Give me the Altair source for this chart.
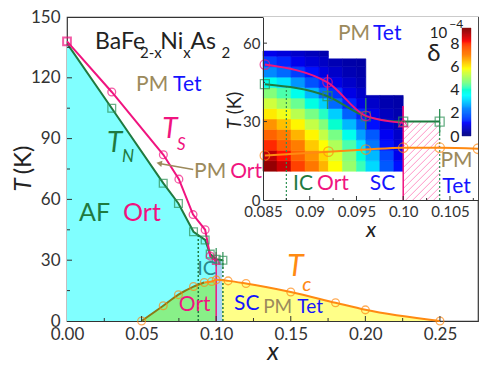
import altair as alt
import pandas as pd
import numpy as np

# ---------------- colours / fonts ----------------
PINK = "#f0147f"
GREEN_L = "#1f7a3f"
GREEN_M = "#2e9156"
ORANGE = "#ff8a12"
OLIVE = "#8c7a14"
TAN = "#9c8a5c"
BLUE = "#1414ff"
TEAL = "#2a8a8a"
FONT = "Lato"

# ---------------- main panel data ----------------
tn_x = [0.0, 0.030, 0.0645, 0.0747, 0.0848, 0.0926, 0.0960, 0.1000, 0.1045]
tn_T = [137, 105, 68, 58, 44, 40, 33, 30.5, 30]
ts_x = [0.0, 0.030, 0.0646, 0.0750, 0.0845, 0.0926, 0.0960, 0.1000]
ts_T = [138, 113, 82, 70, 52.5, 45, 32, 29.5]
tc_x = [0.050, 0.0645, 0.0747, 0.0848, 0.0920, 0.0970, 0.1000, 0.1080, 0.1200, 0.1500, 0.1800, 0.2000, 0.2500]
tc_T = [0, 7.5, 13, 17, 19, 19.5, 20.3, 19.8, 18.5, 14.3, 9, 5.5, 0]

main_eb_x = [0.1000, 0.1045]
main_eb_lo = [27, 26]
main_eb_hi = [36, 34]

main_dot_x = [0.088, 0.1045]
main_dot_top = [43, 30]
main_pink_x = [0.100]
main_pink_top = [34]
hatch_main = dict(x=0.100, x2=0.104, y=0, y2=30)

# ---------------- inset data ----------------
its_x = [0.0852, 0.0919, 0.0960, 0.1000]
its_T = [51.8, 45, 32.2, 29.5]
itn_x = [0.0852, 0.0919, 0.0960, 0.1000, 0.1039]
itn_T = [44.3, 39.7, 32, 30, 30]
itc_x = [0.0852, 0.0920, 0.0960, 0.1000, 0.1039, 0.1080]
itc_T = [17, 18.5, 19.3, 20, 20, 19.6]
ieb_g_x = [0.0919, 0.0960, 0.1039]
ieb_g_lo = [34.8, 27, 25.3]
ieb_g_hi = [43.5, 39, 34.8]
ieb_p_x = [0.0919, 0.1000]
ieb_p_lo = [42, 29.5]
ieb_p_hi = [48, 36]
idot_x = [0.0875, 0.1039]
idot_top = [43, 30]
ipink_x = [0.100]
ipink_top = [36]

# delta map (units 1e-4)
hm_x_edges = [0.085, 0.0865, 0.088, 0.0895, 0.091, 0.092, 0.0935, 0.095, 0.096, 0.0975, 0.099, 0.100]
hm_top = [57, 57, 57, 57, 57, 54, 54, 54, 40, 40, 40]
hm_T_edges = [11, 15, 19, 23, 27, 31, 35, 39, 43, 47, 51, 55, 59]
delta = [
    [9.1, 8.6, 7.8, 7.1, 6.5, 5.8, 4.9, 4.2, 3.1, 1.8, 1.2],
    [8.7, 8.1, 7.4, 6.8, 6.2, 5.5, 4.7, 3.9, 2.8, 1.6, 1.0],
    [8.0, 7.5, 7.0, 6.3, 5.8, 5.1, 4.3, 3.2, 2.2, 1.2, 0.85],
    [7.4, 7.0, 6.5, 5.9, 5.3, 4.6, 3.7, 2.6, 1.8, 1.05, 0.7],
    [6.8, 6.4, 5.9, 5.3, 4.7, 4.0, 2.8, 1.9, 1.2, 0.8, 0.55],
    [6.0, 5.7, 5.2, 4.6, 4.1, 3.0, 1.9, 1.3, 0.95, 0.6, 0.45],
    [5.4, 5.0, 4.5, 3.8, 3.0, 2.0, 1.3, 0.95, 0.7, 0.45, 0.4],
    [4.7, 4.3, 3.7, 2.8, 2.0, 1.4, 0.95, 0.7, 0.55, 0.4, 0.35],
    [3.7, 3.2, 2.5, 1.7, 1.3, 0.95, 0.7, 0.5],
    [2.4, 2.0, 1.5, 1.2, 0.9, 0.7, 0.5, 0.4],
    [1.5, 1.3, 1.0, 0.8, 0.65, 0.5, 0.4, 0.35],
    [1.0, 0.85, 0.7, 0.55, 0.45],
]
cbar_ticks = [0, 2, 4, 6, 8]
DMAX = 9.3

# ---------------- geometry ----------------
W, H = 411, 304
XD = [0.0, 0.2755]
YD = [0, 150]
IXD = [0.085, 0.108]
IYD = [0, 70]
IXR = [196, 411]
IYR = [183, 0]

JET = ["#00007f", "#0000ff", "#007fff", "#00ffff", "#7fff7f", "#ffff00", "#ff7f00", "#ff0000", "#7f0000"]
JET_DOM = [DMAX * i / 8 for i in range(9)]
cscale = alt.Scale(domain=JET_DOM, range=JET)


def mx(f="x", axis=None):
    return alt.X(f"{f}:Q", scale=alt.Scale(domain=XD, range=[0, W], nice=False, zero=False), axis=axis)


def my(f="y", axis=None):
    return alt.Y(f"{f}:Q", scale=alt.Scale(domain=YD, range=[H, 0], nice=False, zero=False), axis=axis)


def ix(f="x", axis=None):
    return alt.X(f"{f}:Q", scale=alt.Scale(domain=IXD, range=IXR, nice=False, zero=False), axis=axis)


def iy(f="y", axis=None):
    return alt.Y(f"{f}:Q", scale=alt.Scale(domain=IYD, range=IYR, nice=False, zero=False), axis=axis)


def df(**k):
    return pd.DataFrame(k)


def texts(rows, X, Y, font=FONT, italic=False, baseline="middle", align="left"):
    d = pd.DataFrame(rows, columns=["t", "x", "y", "c", "s"])
    kw = dict(font=font, baseline=baseline, align=align)
    if italic:
        kw["fontStyle"] = "italic"
    return alt.Chart(d).mark_text(**kw).encode(
        x=X("x"), y=Y("y"), text="t:N",
        color=alt.Color("c:N", scale=None), size=alt.Size("s:Q", scale=None))


layers = []

# ---------------- main layers ----------------
d_tn = df(x=tn_x, y=tn_T)
d_ts = df(x=ts_x, y=ts_T)
d_tc = df(x=tc_x, y=tc_T)

main_x_axis = alt.Axis(values=[0, 0.05, 0.1, 0.15, 0.2, 0.25], format=".2f", title="x", orient="bottom",
                       titleFontStyle="italic", titleFontSize=25, titleFont=FONT, titleFontWeight="normal",
                       labelFontSize=17, labelFont=FONT, ticks=False, domain=False, grid=False,
                       labelFlush=False, labelOverlap=False,
                       labelPadding=5, titlePadding=-3, labelColor="#333", titleColor="#222")
main_y_axis = alt.Axis(values=[0, 30, 60, 90, 120, 150], title=None, orient="left", labelFontSize=17, labelFont=FONT,
                       ticks=False, domain=False, grid=False, labelPadding=7, labelColor="#333",
                       labelFlush=False, labelOverlap=False)

layers.append(alt.Chart(d_tn[d_tn.x <= 0.1]).mark_area(color="#80ffff", opacity=1).encode(
    x=mx("x", main_x_axis), y=my("y", main_y_axis), y2=alt.datum(0)))
layers.append(alt.Chart(d_tc[d_tc.x <= 0.1]).mark_area(color="#88f088", interpolate="monotone").encode(
    x=mx(), y=my(), y2=alt.datum(0)))
layers.append(alt.Chart(d_tc[d_tc.x >= 0.1]).mark_area(color="#ffff88", interpolate="monotone").encode(
    x=mx(), y=my(), y2=alt.datum(0)))
layers.append(alt.Chart(pd.DataFrame([hatch_main])).mark_rect(color="#a8d4f5").encode(
    x=mx("x"), x2="x2", y=my("y"), y2="y2"))
layers.append(alt.Chart(df(x=main_dot_x, t=main_dot_top, b=[0] * len(main_dot_x))).mark_rule(
    color=GREEN_L, strokeDash=[2, 2], strokeWidth=1.5).encode(x=mx(), y=my("b"), y2="t"))
layers.append(alt.Chart(df(x=main_pink_x, t=main_pink_top, b=[0])).mark_rule(
    color=PINK, strokeWidth=1.5).encode(x=mx(), y=my("b"), y2="t"))
layers.append(alt.Chart(d_tn).mark_line(color=GREEN_L, strokeWidth=2).encode(x=mx(), y=my()))
layers.append(alt.Chart(d_ts).mark_line(color=PINK, strokeWidth=2).encode(x=mx(), y=my()))
layers.append(alt.Chart(d_tc[d_tc.x <= 0.092]).mark_line(color=OLIVE, strokeWidth=2, interpolate="monotone").encode(x=mx(), y=my()))
layers.append(alt.Chart(d_tc[d_tc.x >= 0.092]).mark_line(color=ORANGE, strokeWidth=2, interpolate="monotone").encode(x=mx(), y=my()))
layers.append(alt.Chart(df(x=main_eb_x, lo=main_eb_lo, hi=main_eb_hi)).mark_rule(color=GREEN_M, strokeWidth=1.2).encode(
    x=mx(), y=my("lo"), y2="hi"))
layers.append(alt.Chart(d_tn.iloc[1:]).mark_point(shape="square", color=GREEN_M, size=60, strokeWidth=1.3).encode(x=mx(), y=my()))
layers.append(alt.Chart(d_ts.iloc[1:-1]).mark_point(shape="circle", color=PINK, size=60, strokeWidth=1.3).encode(x=mx(), y=my()))
layers.append(alt.Chart(d_ts.iloc[-1:]).mark_point(shape="triangle-up", color=PINK, size=50, strokeWidth=1.3).encode(x=mx(), y=my()))
layers.append(alt.Chart(d_ts.iloc[:1]).mark_point(shape="square", color=PINK, size=60, strokeWidth=2).encode(x=mx(), y=my()))
layers.append(alt.Chart(d_tc).mark_point(shape="circle", color=ORANGE, size=60, strokeWidth=1.3).encode(x=mx(), y=my()))

layers.append(alt.Chart(df(x=[0.0846], y=[74.8], x2=[0.0628], y2=[77.6])).mark_rule(color=TAN, strokeWidth=1.5).encode(
    x=mx(), y=my(), x2="x2", y2="y2"))
layers.append(alt.Chart(df(x=[0.0618], y=[77.8])).mark_point(shape="triangle-left", filled=True, color=TAN, size=40,
                                                             opacity=1, angle=10).encode(x=mx(), y=my()))

# inward ticks of the main panel
layers.append(alt.Chart(df(v=[30, 60, 90, 120])).mark_rule(color="#333").encode(y=my("v"), x=alt.value(0), x2=alt.value(5)))
layers.append(alt.Chart(df(v=[15, 45, 75, 105, 135])).mark_rule(color="#333").encode(y=my("v"), x=alt.value(0), x2=alt.value(3)))
layers.append(alt.Chart(df(v=[0.05, 0.1, 0.15, 0.2, 0.25])).mark_rule(color="#333").encode(x=mx("v"), y=alt.value(H), y2=alt.value(H - 5)))
layers.append(alt.Chart(df(v=[0.025, 0.075, 0.125, 0.175, 0.225])).mark_rule(color="#333").encode(x=mx("v"), y=alt.value(H), y2=alt.value(H - 3)))

# main annotations
layers.append(texts([("PM", 0.0678, 116.6, TAN, 21), ("PM", 0.1067, 73.3, TAN, 21), ("AF", 0.0289, 53.1, GREEN_L, 25),
                     ("PM", 0.1510, 6.9, TAN, 19)], mx, my, align="right"))
layers.append(texts([("Tet", 0.0711, 116.6, BLUE, 21), ("Ort", 0.1094, 73.3, PINK, 21), ("Ort", 0.0376, 53.1, PINK, 25),
                     ("Tet", 0.1544, 6.9, BLUE, 19)], mx, my, align="left"))
layers.append(texts([("IC", 0.0936, 25.6, TEAL, 20), ("Ort", 0.0856, 7.9, PINK, 21), ("SC", 0.1205, 8.4, BLUE, 21)],
                    mx, my, align="center"))
layers.append(texts([("T", 0.0638, 94.4, PINK, 28), ("S", 0.0738, 87, PINK, 17),
                     ("T", 0.0268, 87.5, GREEN_L, 28), ("N", 0.0369, 80.7, GREEN_L, 17),
                     ("T", 0.1477, 26.6, ORANGE, 30), ("c", 0.1577, 17.7, ORANGE, 20)], mx, my, italic=True))
layers.append(texts([("BaFe", 0.0188, 134.3, "#222", 23), ("2-x", 0.0490, 129.8, "#222", 15),
                     ("Ni", 0.0625, 134.3, "#222", 23), ("x", 0.0780, 129.8, "#222", 15),
                     ("As", 0.0828, 134.3, "#222", 23), ("2", 0.1035, 129.8, "#222", 15)],
                    mx, my, baseline="alphabetic"))
layers.append(alt.Chart(df(t=["T"])).mark_text(font=FONT, fontSize=24, fontStyle="italic", angle=270, color="#222").encode(
    text="t:N", x=alt.value(-43), y=alt.value(168)))
layers.append(alt.Chart(df(t=["(K)"])).mark_text(font=FONT, fontSize=24, angle=270, color="#222").encode(
    text="t:N", x=alt.value(-43), y=alt.value(143)))

# ---------------- inset layers ----------------
hm_rows = []
for j in range(len(hm_T_edges) - 1):
    lo, hi = hm_T_edges[j], hm_T_edges[j + 1]
    for i, dv in enumerate(delta[j]):
        top = hm_top[i]
        if lo >= top:
            continue
        hm_rows.append(dict(x=hm_x_edges[i], x2=hm_x_edges[i + 1], y=lo, y2=min(hi, top), d=dv))
d_hm = pd.DataFrame(hm_rows)

inset_x_axis = alt.Axis(values=[0.085, 0.09, 0.095, 0.1, 0.105], orient="bottom", offset=IYR[0] - H,
                        labelExpr="datum.value == 0.1 ? '0.10' : format(datum.value, '.3~f')",
                        title="x", titleFontStyle="italic", titleFontSize=22, titleFont=FONT, titleFontWeight="normal",
                        titlePadding=0, labelFontSize=15, labelFont=FONT, labelPadding=4, ticks=False,
                        labelFlush=False, labelOverlap=False, zindex=2,
                        domain=True, domainColor="#333", grid=False, labelColor="#333", titleColor="#222")
inset_y_axis = alt.Axis(values=[0, 30, 60], orient="left", offset=-IXR[0], title=None,
                        labelFontSize=15, labelFont=FONT, labelPadding=3, ticks=False,
                        labelFlush=False, labelOverlap=False, zindex=2,
                        domain=True, domainColor="#333", grid=False, labelColor="#333")

layers.append(alt.Chart(df(x=[IXD[0]], x2=[IXD[1]], y=[IYD[0]], y2=[IYD[1]])).mark_rect(color="white").encode(
    x=ix("x", inset_x_axis), x2="x2", y=iy("y", inset_y_axis), y2="y2"))
layers.append(alt.Chart(d_hm).mark_rect(strokeWidth=0.6).encode(
    x=ix(), x2="x2", y=iy(), y2="y2",
    color=alt.Color("d:Q", scale=cscale, legend=None),
    stroke=alt.Stroke("d:Q", scale=cscale, legend=None)))

# pink hatch lines for x in [0.100, 0.104], T in [0, 30]
sx = (IXR[1] - IXR[0]) / (IXD[1] - IXD[0])
sy = (IYR[0] - IYR[1]) / (IYD[1] - IYD[0])
xa, xb = IXR[0] + (0.1000 - IXD[0]) * sx, IXR[0] + (0.1039 - IXD[0]) * sx
ya, yb = IYR[0] - 30 * sy, IYR[0]
hl = []
for c in np.arange(xa + ya + 4, xb + yb, 7):
    x1 = max(xa, c - yb); x2 = min(xb, c - ya)
    if x2 <= x1:
        continue
    y1 = c - x1; y2 = c - x2
    hl.append(dict(x=IXD[0] + (x1 - IXR[0]) / sx, y=(IYR[0] - y1) / sy,
                   x2=IXD[0] + (x2 - IXR[0]) / sx, y2=(IYR[0] - y2) / sy))
layers.append(alt.Chart(pd.DataFrame(hl)).mark_rule(color="#ff7ab8", strokeWidth=0.8).encode(
    x=ix(), y=iy(), x2="x2", y2="y2"))

layers.append(alt.Chart(df(x=idot_x, t=idot_top, b=[0] * len(idot_x))).mark_rule(
    color=GREEN_M, strokeDash=[2, 2], strokeWidth=1.2).encode(x=ix(), y=iy("b"), y2="t"))
layers.append(alt.Chart(df(x=ipink_x, t=ipink_top, b=[0])).mark_rule(color=PINK, strokeWidth=1.5).encode(
    x=ix(), y=iy("b"), y2="t"))
d_its = df(x=its_x, y=its_T)
d_itn = df(x=itn_x, y=itn_T)
d_itc = df(x=itc_x, y=itc_T)
layers.append(alt.Chart(df(x=ieb_g_x, lo=ieb_g_lo, hi=ieb_g_hi)).mark_rule(color=GREEN_M, strokeWidth=1.3).encode(
    x=ix(), y=iy("lo"), y2="hi"))
layers.append(alt.Chart(df(x=ieb_p_x, lo=ieb_p_lo, hi=ieb_p_hi)).mark_rule(color=PINK, strokeWidth=1.3).encode(
    x=ix(), y=iy("lo"), y2="hi"))
layers.append(alt.Chart(d_itc).mark_line(color=ORANGE, strokeWidth=2, interpolate="monotone").encode(x=ix(), y=iy()))
layers.append(alt.Chart(d_itn).mark_line(color=GREEN_L, strokeWidth=2, interpolate="monotone").encode(x=ix(), y=iy()))
layers.append(alt.Chart(d_its).mark_line(color=PINK, strokeWidth=2, interpolate="monotone").encode(x=ix(), y=iy()))
layers.append(alt.Chart(d_itc).mark_point(shape="circle", color=ORANGE, size=90, strokeWidth=1.3, clip=True).encode(x=ix(), y=iy()))
layers.append(alt.Chart(d_itn).mark_point(shape="square", color=GREEN_M, size=80, strokeWidth=1.3).encode(x=ix(), y=iy()))
layers.append(alt.Chart(d_its.iloc[:-1]).mark_point(shape="circle", color=PINK, size=90, strokeWidth=1.3).encode(x=ix(), y=iy()))
layers.append(alt.Chart(d_its.iloc[-1:]).mark_point(shape="triangle-up", color=PINK, size=80, strokeWidth=1.3).encode(x=ix(), y=iy()))

layers.append(alt.Chart(df(v=[30, 60])).mark_rule(color="#333").encode(y=iy("v"), x=alt.value(IXR[0]), x2=alt.value(IXR[0] + 4)))
layers.append(alt.Chart(df(v=[15, 45])).mark_rule(color="#333").encode(y=iy("v"), x=alt.value(IXR[0]), x2=alt.value(IXR[0] + 2)))
layers.append(alt.Chart(df(v=[0.09, 0.095, 0.1, 0.105])).mark_rule(color="#333").encode(x=ix("v"), y=alt.value(IYR[0]), y2=alt.value(IYR[0] - 4)))
layers.append(alt.Chart(df(v=[0.0875, 0.0925, 0.0975, 0.1025, 0.1075])).mark_rule(color="#333").encode(x=ix("v"), y=alt.value(IYR[0]), y2=alt.value(IYR[0] - 2)))

layers.append(texts([("PM", 0.09645, 63.6, TAN, 21), ("IC", 0.09035, 6.05, GREEN_L, 21)], ix, iy, align="right"))
layers.append(texts([("Tet", 0.09677, 63.6, BLUE, 21), ("Ort", 0.09078, 6.05, PINK, 21)], ix, iy, align="left"))
layers.append(texts([("SC", 0.09778, 6.05, BLUE, 21), ("PM", 0.10570, 15.1, TAN, 21), ("Tet", 0.10570, 4.9, BLUE, 21),
                     ("δ", 0.10329, 56, "#222", 24)], ix, iy, align="center"))
layers.append(texts([("10", 0.10470, 64, "#222", 15)], ix, iy, align="right"))
layers.append(texts([("−4", 0.10492, 67.5, "#222", 12)], ix, iy, align="left"))
layers.append(alt.Chart(df(t=["T"])).mark_text(font=FONT, fontSize=19, fontStyle="italic", angle=270, color="#222").encode(
    text="t:N", x=alt.value(168), y=alt.value(107)))
layers.append(alt.Chart(df(t=["(K)"])).mark_text(font=FONT, fontSize=19, angle=270, color="#222").encode(
    text="t:N", x=alt.value(168), y=alt.value(86)))

# ---------------- colour bar ----------------
cb_v = np.round(np.arange(0, DMAX, 0.05), 3)
d_cb = df(v=cb_v, v2=np.round(cb_v + 0.05, 3), a=[0.0] * len(cb_v), b=[1.0] * len(cb_v))
cb_axis = alt.Axis(values=cbar_ticks, orient="left", offset=-395, title=None, labelFontSize=16, labelFont=FONT,
                   ticks=False, domain=False, grid=False, labelPadding=3, labelColor="#222",
                   labelFlush=False, labelOverlap=False, zindex=2)
layers.append(alt.Chart(d_cb).mark_rect(strokeWidth=0.4).encode(
    x=alt.X("a:Q", scale=alt.Scale(domain=[0, 1], range=[395, 404], nice=False, zero=False), axis=None), x2="b",
    y=alt.Y("v:Q", scale=alt.Scale(domain=[0, DMAX], range=[119, 11], nice=False, zero=False), axis=cb_axis), y2="v2",
    color=alt.Color("v:Q", scale=cscale, legend=None),
    stroke=alt.Stroke("v:Q", scale=cscale, legend=None)))

chart = alt.layer(*layers).resolve_scale(x="independent", y="independent").properties(
    width=W, height=H,
    autosize=alt.AutoSizeParams(type="none"),
    padding={"left": 59, "top": 9, "right": 8, "bottom": 44},
).configure_view(stroke="#333", strokeWidth=1.2)

chart.save("out.html", embed_options={"renderer": "svg", "actions": False})
